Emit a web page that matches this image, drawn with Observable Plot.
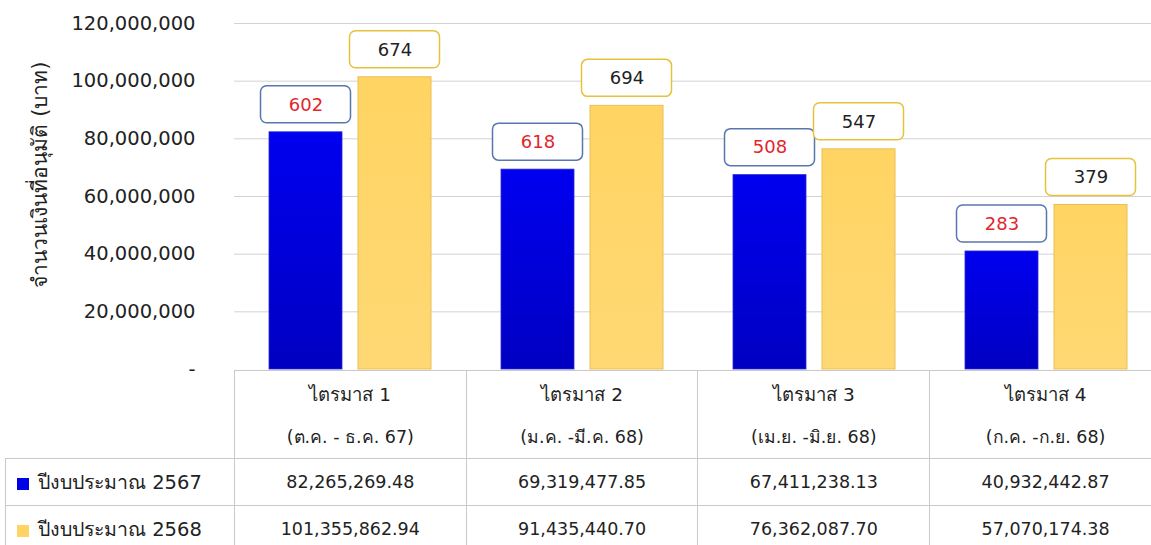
<!DOCTYPE html>
<html>
<head>
<meta charset="utf-8">
<script src="https://cdn.jsdelivr.net/npm/d3@7"></script>
<script src="https://cdn.jsdelivr.net/npm/@observablehq/plot@0.6"></script>
<style>
  html, body { margin: 0; padding: 0; background: #fff; overflow: hidden; width: 1151px; height: 545px; }
  #chart { position: relative; width: 1162px; height: 545px; font-family: Tahoma, "DejaVu Sans", sans-serif; color: #222; }
  #chart svg { display: block; max-width: none; }
  table.data { position: absolute; left: 5px; top: 370px; border-collapse: collapse; table-layout: fixed; font-size: 17.5px; color: #222; }
  table.data td { border: 1px solid #c9c9c9; text-align: center; vertical-align: middle; padding: 0; white-space: nowrap; }
  table.data td.blank { border: none; }
  table.data tr.head td { height: 86px; }
  table.data tr.head td div { line-height: 42px; }
  table.data tr.head td div:first-child { padding-top: 3px; font-size: 18.5px; }
  table.data tr.row td { height: 46px; }
  table.data td.name { text-align: left; padding-left: 11px; font-size: 19.5px; }
  table.data td.name span.key { display: inline-block; width: 12px; height: 12px; margin-right: 9px; vertical-align: -1px; }
</style>
</head>
<body>
<div id="chart"></div>
<script>
// Quarterly approved amounts (baht) and number of approved items, fiscal years 2567 and 2568
const quarters = ["ไตรมาส 1", "ไตรมาส 2", "ไตรมาส 3", "ไตรมาส 4"];
const periods = ["(ต.ค. - ธ.ค. 67)", "(ม.ค. -มี.ค. 68)", "(เม.ย. -มิ.ย. 68)", "(ก.ค. -ก.ย. 68)"];
const seriesNames = ["ปีงบประมาณ 2567", "ปีงบประมาณ 2568"];
const amounts2567 = [82265269.48, 69319477.85, 67411238.13, 40932442.87];
const amounts2568 = [101355862.94, 91435440.70, 76362087.70, 57070174.38];
const counts2567 = [602, 618, 508, 283];
const counts2568 = [674, 694, 547, 379];
const yTicks = [0, 20000000, 40000000, 60000000, 80000000, 100000000, 120000000];
const yTitle = "จำนวนเงินที่อนุมัติ (บาท)";

const rows2567 = quarters.map((q, i) => ({quarter: q, amount: amounts2567[i], count: counts2567[i]}));
const rows2568 = quarters.map((q, i) => ({quarter: q, amount: amounts2568[i], count: counts2568[i]}));

const blue = "#0000e6";
const gold = "#ffd465";
const fmtMoney = d3.format(",.2f");

const plot = Plot.plot({
  width: 1162,
  height: 370,
  marginLeft: 234,
  marginRight: 0,
  marginTop: 23,
  marginBottom: 1,
  style: {fontFamily: 'Tahoma, "DejaVu Sans", sans-serif', fontSize: "19.5px", color: "#222", overflow: "visible"},
  x: {type: "band", domain: quarters, padding: 0, axis: null},
  y: {domain: [0, 120000000], axis: null},
  marks: [
    Plot.gridY(yTicks.filter(d => d > 0), {stroke: "#d3d3d3", strokeOpacity: 1}),
    Plot.axisY(yTicks, {
      label: null,
      tickSize: 0,
      tickPadding: 39,
      tickFormat: d => d === 0 ? "-" : d3.format(",")(d),
      fill: "#222"
    }),
    Plot.text([yTitle], {
      frameAnchor: "left",
      textAnchor: "middle",
      rotate: -90,
      dx: -194,
      dy: -22,
      fontSize: 21,
      fill: "#222"
    }),
    // bars
    Plot.barY(rows2567, {x: "quarter", y: "amount", fill: "url(#gradBlue)", stroke: "#2a2ad0", strokeWidth: 0.8, insetLeft: 35, insetRight: 124}),
    Plot.barY(rows2568, {x: "quarter", y: "amount", fill: "url(#gradGold)", stroke: "#e9bf55", strokeWidth: 1, insetLeft: 124, insetRight: 35}),
    // rounded call-out boxes with item counts
    Plot.barY(rows2567, {x: "quarter", y1: "amount", y2: "amount", insetTop: -46, insetBottom: 9, insetLeft: 26.5, insetRight: 115.5, rx: 6, fill: "white", stroke: "#5877ad", strokeWidth: 1.5}),
    Plot.barY(rows2568, {x: "quarter", y1: "amount", y2: "amount", insetTop: -46, insetBottom: 9, insetLeft: 115.5, insetRight: 26.5, rx: 6, fill: "white", stroke: "#e6c13c", strokeWidth: 1.5}),
    Plot.text(rows2567, {x: "quarter", y: "amount", text: "count", dx: -44.5, dy: -27.5, fill: "#e3262c", fontSize: 18}),
    Plot.text(rows2568, {x: "quarter", y: "amount", text: "count", dx: 44.5, dy: -27.5, fill: "#222", fontSize: 18})
  ]
});

// gradient fills for the bars
const defs = d3.select(plot).insert("defs", ":first-child");
const gb = defs.append("linearGradient").attr("id", "gradBlue").attr("x1", 0).attr("y1", 0).attr("x2", 0).attr("y2", 1);
gb.append("stop").attr("offset", "0%").attr("stop-color", "#0000f0");
gb.append("stop").attr("offset", "100%").attr("stop-color", "#0000c2");
const gg = defs.append("linearGradient").attr("id", "gradGold").attr("x1", 0).attr("y1", 0).attr("x2", 0).attr("y2", 1);
gg.append("stop").attr("offset", "0%").attr("stop-color", "#ffd462");
gg.append("stop").attr("offset", "100%").attr("stop-color", "#ffd874");

const chart = document.getElementById("chart");
chart.appendChild(plot);

// data table below the chart
const table = d3.select(chart).append("table").attr("class", "data");
const cg = table.append("colgroup");
cg.append("col").style("width", "229px");
quarters.forEach(() => cg.append("col").style("width", "232px"));

const head = table.append("tr").attr("class", "head");
head.append("td").attr("class", "blank");
quarters.forEach((q, i) => {
  const td = head.append("td");
  td.append("div").text(q);
  td.append("div").text(periods[i]);
});

[[seriesNames[0], amounts2567, blue], [seriesNames[1], amounts2568, gold]].forEach(([name, values, color]) => {
  const tr = table.append("tr").attr("class", "row");
  const nameCell = tr.append("td").attr("class", "name");
  nameCell.append("span").attr("class", "key").style("background", color);
  nameCell.append("span").text(name);
  values.forEach(v => tr.append("td").text(fmtMoney(v)));
});
</script>
</body>
</html>
